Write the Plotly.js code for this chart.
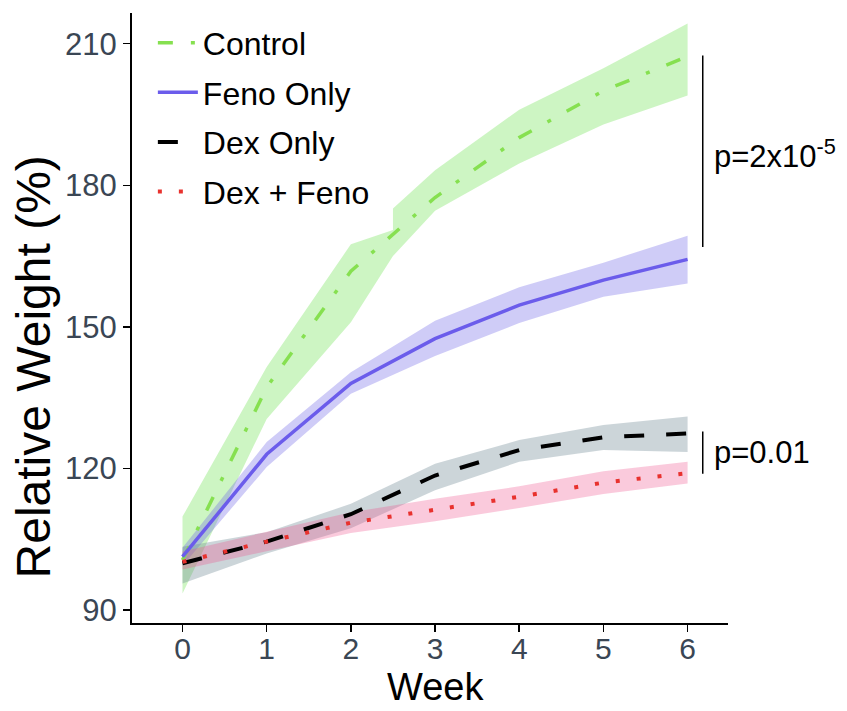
<!DOCTYPE html>
<html>
<head>
<meta charset="utf-8">
<script src="https://cdn.plot.ly/plotly-3.0.1.min.js"></script>
<style>body{margin:0;background:#fff}#chart{width:847px;height:711px}</style>
</head>
<body>
<div id="chart"></div>
<script>
// Weeks
var weeks = [0, 1, 2, 3, 4, 5, 6];

// Mean relative weight (%) per group
var controlMean   = [100.6, 137.2, 161.8, 177.4, 190.1, 200.0, 207.3];
var fenoMean      = [101.3, 123.0, 138.0, 147.5, 154.6, 159.9, 164.3];
var dexMean       = [99.9, 104.5, 110.3, 118.5, 123.9, 126.6, 127.4];
var dexFenoMean   = [100.2, 104.5, 108.5, 111.2, 114.0, 117.0, 119.0];

// Ribbon edges
var controlUpperX = [0, 1, 2, 2.5, 2.5, 3, 4, 5, 6];
var controlUpper  = [109.8, 141.5, 167.5, 170.5, 175.1, 183.2, 196.0, 204.8, 214.3];
var controlLowerX = [0, 1, 2, 2.5, 3, 4, 5, 6];
var controlLower  = [93.5, 130.5, 151.0, 165.0, 174.6, 184.6, 192.9, 199.0];
var fenoUpper     = [103.2, 125.6, 140.4, 151.3, 158.4, 163.6, 169.3];
var fenoLower     = [99.4, 120.3, 135.8, 143.8, 150.8, 156.4, 159.2];
var dexUpper      = [103.4, 106.5, 112.5, 121.0, 126.0, 129.2, 131.0];
var dexLower      = [95.6, 102.0, 107.3, 115.4, 121.4, 123.9, 123.5];
var dexFenoUpper  = [102.4, 106.6, 110.7, 113.6, 116.2, 119.4, 121.4];
var dexFenoLower  = [98.6, 102.4, 106.3, 108.8, 111.6, 114.6, 116.8];

var groupNames = ['Control', 'Feno Only', 'Dex Only', 'Dex + Feno'];
var yTicks = [90, 120, 150, 180, 210];

function ribbon(xu, yu, xl, yl, fillcolor) {
  return {
    x: xu.concat(xl.slice().reverse()),
    y: yu.concat(yl.slice().reverse()),
    type: 'scatter', mode: 'lines', fill: 'toself',
    fillcolor: fillcolor, line: {width: 0, color: 'rgba(0,0,0,0)'},
    showlegend: false, hoverinfo: 'skip'
  };
}

var traces = [
  ribbon(controlUpperX, controlUpper, controlLowerX, controlLower, 'rgba(130,230,105,0.40)'),
  ribbon(weeks, fenoUpper, weeks, fenoLower, 'rgba(110,100,230,0.33)'),
  ribbon(weeks, dexUpper, weeks, dexLower, 'rgba(110,135,145,0.35)'),
  ribbon(weeks, dexFenoUpper, weeks, dexFenoLower, 'rgba(240,80,140,0.30)'),
  {x: weeks, y: controlMean, type: 'scatter', mode: 'lines', name: groupNames[0], legendgroup: 'a',
   line: {color: '#86E050', width: 3.5, dash: '15px,18px,4px,18px'}},
  {x: weeks, y: fenoMean, type: 'scatter', mode: 'lines', name: groupNames[1], legendgroup: 'b',
   line: {color: '#6B5CEB', width: 3.5}},
  {x: weeks, y: dexMean, type: 'scatter', mode: 'lines', name: groupNames[2], legendgroup: 'c',
   line: {color: '#000000', width: 4, dash: '20px,22px'}},
  {x: weeks, y: dexFenoMean, type: 'scatter', mode: 'lines', name: groupNames[3], legendgroup: 'd',
   line: {color: '#E8322E', width: 4, dash: '4px,17px'}}
];

var layout = {
  width: 847, height: 711,
  margin: {l: 132, r: 119, t: 13, b: 88},
  paper_bgcolor: '#fff', plot_bgcolor: '#fff',
  font: {family: 'Liberation Sans, Arial, sans-serif', color: '#000'},
  showlegend: true,
  legend: {x: 0.035, y: 0.996, xanchor: 'left', yanchor: 'top', bgcolor: 'rgba(0,0,0,0)',
           font: {size: 32, color: '#000'}, tracegroupgap: 5, itemwidth: 40},
  xaxis: {
    range: [-0.6, 6.48], tickvals: weeks, ticktext: weeks.map(String),
    showgrid: false, zeroline: false, showline: true, linecolor: '#000', linewidth: 2,
    ticks: 'outside', ticklen: 7, tickwidth: 1.5, tickcolor: '#000',
    tickfont: {size: 30, color: '#3a4654'}, ticklabelstandoff: -9
  },
  yaxis: {
    range: [87.25, 216.5], tickvals: yTicks,
    showgrid: false, zeroline: false, showline: true, linecolor: '#000', linewidth: 2,
    ticks: 'outside', ticklen: 7, tickwidth: 1.5, tickcolor: '#000',
    tickfont: {size: 31, color: '#3a4654'}
  },
  shapes: [
    {type: 'line', xref: 'x', yref: 'y', x0: 6.18, x1: 6.18, y0: 166.9, y1: 207.5,
     line: {color: '#000', width: 1.5}},
    {type: 'line', xref: 'x', yref: 'y', x0: 6.18, x1: 6.18, y0: 118.9, y1: 127.8,
     line: {color: '#000', width: 1.5}}
  ],
  annotations: [
    {xref: 'x', yref: 'y', x: 6.29, y: 186.6, xanchor: 'left', yanchor: 'middle', showarrow: false,
     text: 'p=2x10<sup>-5</sup>', font: {size: 31, color: '#000'}},
    {xref: 'x', yref: 'y', x: 6.29, y: 123.3, xanchor: 'left', yanchor: 'middle', showarrow: false,
     text: 'p=0.01', font: {size: 31, color: '#000'}},
    {xref: 'paper', yref: 'paper', x: 0.510, y: -0.1426, xanchor: 'center', yanchor: 'bottom',
     showarrow: false, text: 'Week', font: {size: 38, color: '#000'}},
    {xref: 'paper', yref: 'paper', x: -0.165, y: 0.420, xanchor: 'center', yanchor: 'middle',
     showarrow: false, textangle: -90, text: 'Relative Weight (%)', font: {size: 48, color: '#000'}}
  ]
};

Plotly.newPlot('chart', traces, layout, {displayModeBar: false, staticPlot: true});
</script>
</body>
</html>
